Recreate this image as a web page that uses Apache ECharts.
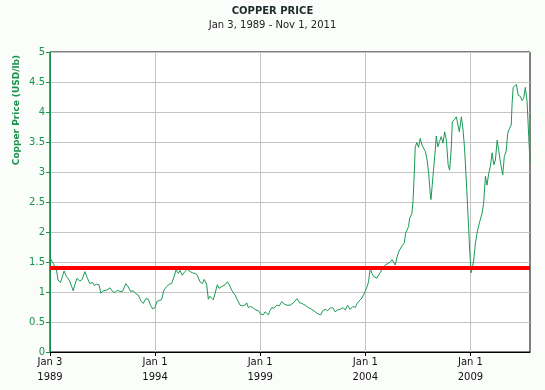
<!DOCTYPE html>
<html>
<head>
<meta charset="utf-8">
<script src="https://cdn.jsdelivr.net/npm/echarts@6/dist/echarts.min.js"></script>
<style>
html,body{margin:0;padding:0;background:#fbfdfb;}
#chart{width:545px;height:390px;}
</style>
</head>
<body>
<div id="chart"></div>
<script>
const titleText = 'COPPER PRICE';
const subtitleText = 'Jan 3, 1989 - Nov 1, 2011';
const yAxisTitle = 'Copper Price (USD/lb)';
const xTickDates = ['1989-01-03','1994-01-01','1999-01-01','2004-01-01','2009-01-01'];
const xRange = ['1989-01-03','2011-11-01'];
const refLevel = [1.41];

const dates = [
'1989-01-03','1989-02-27','1989-04-25','1989-05-22','1989-07-04','1989-08-01','1989-09-05','1989-10-15','1989-12-01',
'1990-01-12','1990-02-10','1990-03-10','1990-04-18','1990-06-04','1990-07-15','1990-09-01','1990-10-10','1990-11-27',
'1991-01-12','1991-02-10','1991-03-21','1991-05-06','1991-06-04','1991-07-15','1991-09-12','1991-11-10','1991-12-25',
'1992-02-04','1992-03-15','1992-05-01','1992-06-15','1992-08-12','1992-09-21','1992-11-03','1992-12-18',
'1993-02-04','1993-03-15','1993-05-01','1993-06-10','1993-07-27','1993-09-05','1993-10-15','1993-11-20',
'1994-01-01','1994-02-01','1994-03-15','1994-04-25','1994-06-04','1994-07-21','1994-09-05','1994-10-15','1994-11-27',
'1995-01-01','1995-02-10','1995-03-10','1995-04-18','1995-06-04','1995-07-15','1995-09-01','1995-10-15','1995-11-27',
'1996-01-05','1996-02-21','1996-04-01','1996-05-05','1996-06-15','1996-07-15','1996-08-12','1996-10-10','1996-11-10','1996-12-18',
'1997-01-18','1997-03-04','1997-05-01','1997-06-10','1997-07-15','1997-08-25','1997-10-21','1997-12-01',
'1998-01-18','1998-03-04','1998-04-12','1998-05-12','1998-06-10','1998-07-21','1998-09-05','1998-10-21','1998-12-01',
'1999-01-12','1999-02-27','1999-03-27','1999-04-25','1999-05-22','1999-06-21','1999-07-21','1999-09-01','1999-10-15','1999-12-01',
'2000-01-12','2000-02-21','2000-04-10','2000-06-04','2000-08-01','2000-10-01','2000-11-15','2000-12-25',
'2001-02-21','2001-04-18','2001-06-15','2001-08-12','2001-10-10','2001-11-21','2001-12-25',
'2002-02-04','2002-03-15','2002-05-01','2002-06-15','2002-07-27','2002-09-05','2002-10-21','2002-12-10',
'2003-01-18','2003-02-27','2003-04-12','2003-06-01','2003-07-10','2003-08-18','2003-09-21','2003-11-04','2003-12-12',
'2004-02-01','2004-02-27','2004-03-27','2004-04-25','2004-05-22','2004-06-21','2004-07-21','2004-08-18','2004-09-18','2004-10-15','2004-11-15','2004-12-12',
'2005-01-12','2005-02-27','2005-04-10','2005-05-05','2005-06-04','2005-07-15','2005-08-18','2005-10-01','2005-11-10','2005-12-01','2005-12-25',
'2006-01-22','2006-02-10','2006-03-04','2006-03-21','2006-04-10','2006-05-01','2006-05-18','2006-06-15','2006-07-15','2006-08-12','2006-09-12','2006-10-10','2006-11-10','2006-12-10',
'2007-01-05','2007-02-04','2007-02-15','2007-03-21','2007-05-01','2007-05-18','2007-06-15','2007-07-15','2007-08-12','2007-09-12','2007-10-10','2007-11-10','2007-12-10',
'2008-01-05','2008-02-01','2008-02-21','2008-03-27','2008-05-01','2008-05-21','2008-06-21','2008-07-27','2008-08-25','2008-09-21','2008-10-21','2008-11-21','2008-12-18',
'2009-01-12','2009-02-04','2009-02-27','2009-03-27','2009-05-05','2009-06-10','2009-07-21','2009-08-18','2009-09-18','2009-10-15','2009-11-15','2009-12-12',
'2010-01-12','2010-02-10','2010-03-10','2010-04-10','2010-05-05','2010-06-04','2010-07-15','2010-08-12','2010-09-12','2010-10-10','2010-11-10','2010-12-10','2010-12-25',
'2011-01-12','2011-02-10','2011-03-10','2011-04-10','2011-05-18','2011-06-15','2011-07-15','2011-08-12','2011-09-12','2011-10-10','2011-11-01'
];
const prices = [
1.57,1.48,1.37,1.20,1.16,1.17,1.35,1.26,1.20,
1.10,1.02,1.12,1.23,1.18,1.21,1.34,1.24,1.14,
1.16,1.11,1.13,1.12,0.98,1.02,1.03,1.07,1.01,
0.99,1.03,1.01,1.01,1.14,1.09,1.01,1.02,
0.97,0.95,0.85,0.81,0.89,0.88,0.78,0.72,
0.74,0.84,0.86,0.87,1.03,1.09,1.13,1.14,1.25,
1.37,1.31,1.36,1.28,1.34,1.38,1.34,1.32,1.31,
1.28,1.17,1.14,1.21,1.13,0.88,0.93,0.87,0.89,1.12,
1.06,1.09,1.12,1.17,1.12,1.03,0.95,0.87,
0.78,0.77,0.78,0.82,0.74,0.76,0.73,0.70,0.69,
0.63,0.62,0.67,0.70,0.62,0.69,0.74,0.73,0.78,0.77,
0.84,0.80,0.78,0.78,0.82,0.89,0.82,0.81,
0.78,0.74,0.71,0.67,0.63,0.62,0.69,
0.71,0.69,0.73,0.74,0.67,0.70,0.71,0.74,
0.70,0.78,0.71,0.76,0.74,0.82,0.80,0.90,0.97,
1.09,1.17,1.40,1.31,1.26,1.28,1.23,1.28,1.31,1.37,1.34,1.45,
1.48,1.49,1.54,1.51,1.45,1.62,1.70,1.77,1.82,1.98,2.03,
2.09,2.23,2.20,2.31,2.53,2.98,3.42,3.49,3.41,3.56,3.45,3.43,3.34,3.20,
2.98,2.62,2.54,2.92,3.37,3.60,3.42,3.51,3.59,3.48,3.67,3.53,3.12,
3.03,3.37,3.84,3.87,3.92,3.93,3.67,3.92,3.70,3.38,2.85,2.25,1.70,
1.32,1.42,1.53,1.81,2.03,2.17,2.31,2.48,2.93,2.78,2.98,3.09,
3.32,3.12,3.20,3.53,3.37,3.17,2.95,3.26,3.34,3.64,3.73,3.78,4.14,
4.41,4.42,4.46,4.28,4.26,4.19,4.23,4.41,4.17,3.59,3.17
];

function ts(s){ const p = s.split('-').map(Number); return Date.UTC(p[0], p[1]-1, p[2]); }
const MONTHS = ['Jan','Feb','Mar','Apr','May','Jun','Jul','Aug','Sep','Oct','Nov','Dec'];
const seriesData = dates.map((d,i) => [ts(d), prices[i]]);
const tickValues = xTickDates.map(ts);

const FONT = 'DejaVu Sans';
const GREEN = '#17924c';

const chart = echarts.init(document.getElementById('chart'), null, {renderer:'canvas'});
chart.setOption({
  backgroundColor: '#fbfdfb',
  animation: false,
  title: {
    text: titleText,
    subtext: subtitleText,
    left: 'center',
    top: 1,
    itemGap: 4,
    textStyle: {fontFamily: FONT, fontSize: 10, fontWeight: 'bold', color: '#1c2b2b'},
    subtextStyle: {fontFamily: FONT, fontSize: 10, color: '#222'}
  },
  grid: {
    left: 50, right: 15, top: 52, bottom: 38,
    show: true, backgroundColor: '#ffffff', borderColor: '#000', borderWidth: 1
  },
  graphic: [{
    type: 'text',
    x: 17, y: 110,
    rotation: Math.PI/2,
    style: {
      text: yAxisTitle, fill: GREEN,
      font: 'bold 9px "DejaVu Sans"',
      align: 'center', verticalAlign: 'middle'
    }
  }],
  xAxis: {
    type: 'value',
    min: ts(xRange[0]), max: ts(xRange[1]),
    axisLine: {show: true, lineStyle: {color: '#000', width: 1}},
    axisTick: {show: true, length: 4, lineStyle: {color: '#000'}, customValues: tickValues},
    axisLabel: {
      customValues: tickValues,
      fontFamily: FONT, fontSize: 10, color: '#111', margin: 3, lineHeight: 15,
      formatter: function(v){ const d = new Date(v); return MONTHS[d.getUTCMonth()] + ' ' + d.getUTCDate() + '\n' + d.getUTCFullYear(); }
    },
    splitLine: {show: true, lineStyle: {color: '#c4c4c4', width: 1}}
  },
  yAxis: {
    type: 'value', min: 0, max: 5, interval: 0.5,
    axisLine: {show: true, lineStyle: {color: GREEN, width: 1}},
    axisTick: {show: true, length: 4, lineStyle: {color: GREEN}},
    axisLabel: {fontFamily: FONT, fontSize: 10, color: GREEN, margin: 5},
    splitLine: {show: true, lineStyle: {color: '#c4c4c4', width: 1}}
  },
  series: [{
    type: 'line',
    data: seriesData,
    showSymbol: false,
    symbol: 'none',
    lineStyle: {color: '#1a9a55', width: 1},
    markLine: {
      silent: true, symbol: ['none','none'],
      label: {show: false},
      lineStyle: {color: '#ff0000', width: 4, type: 'solid'},
      data: [{yAxis: refLevel[0]}]
    },
    z: 3
  }]
});
</script>
</body>
</html>
